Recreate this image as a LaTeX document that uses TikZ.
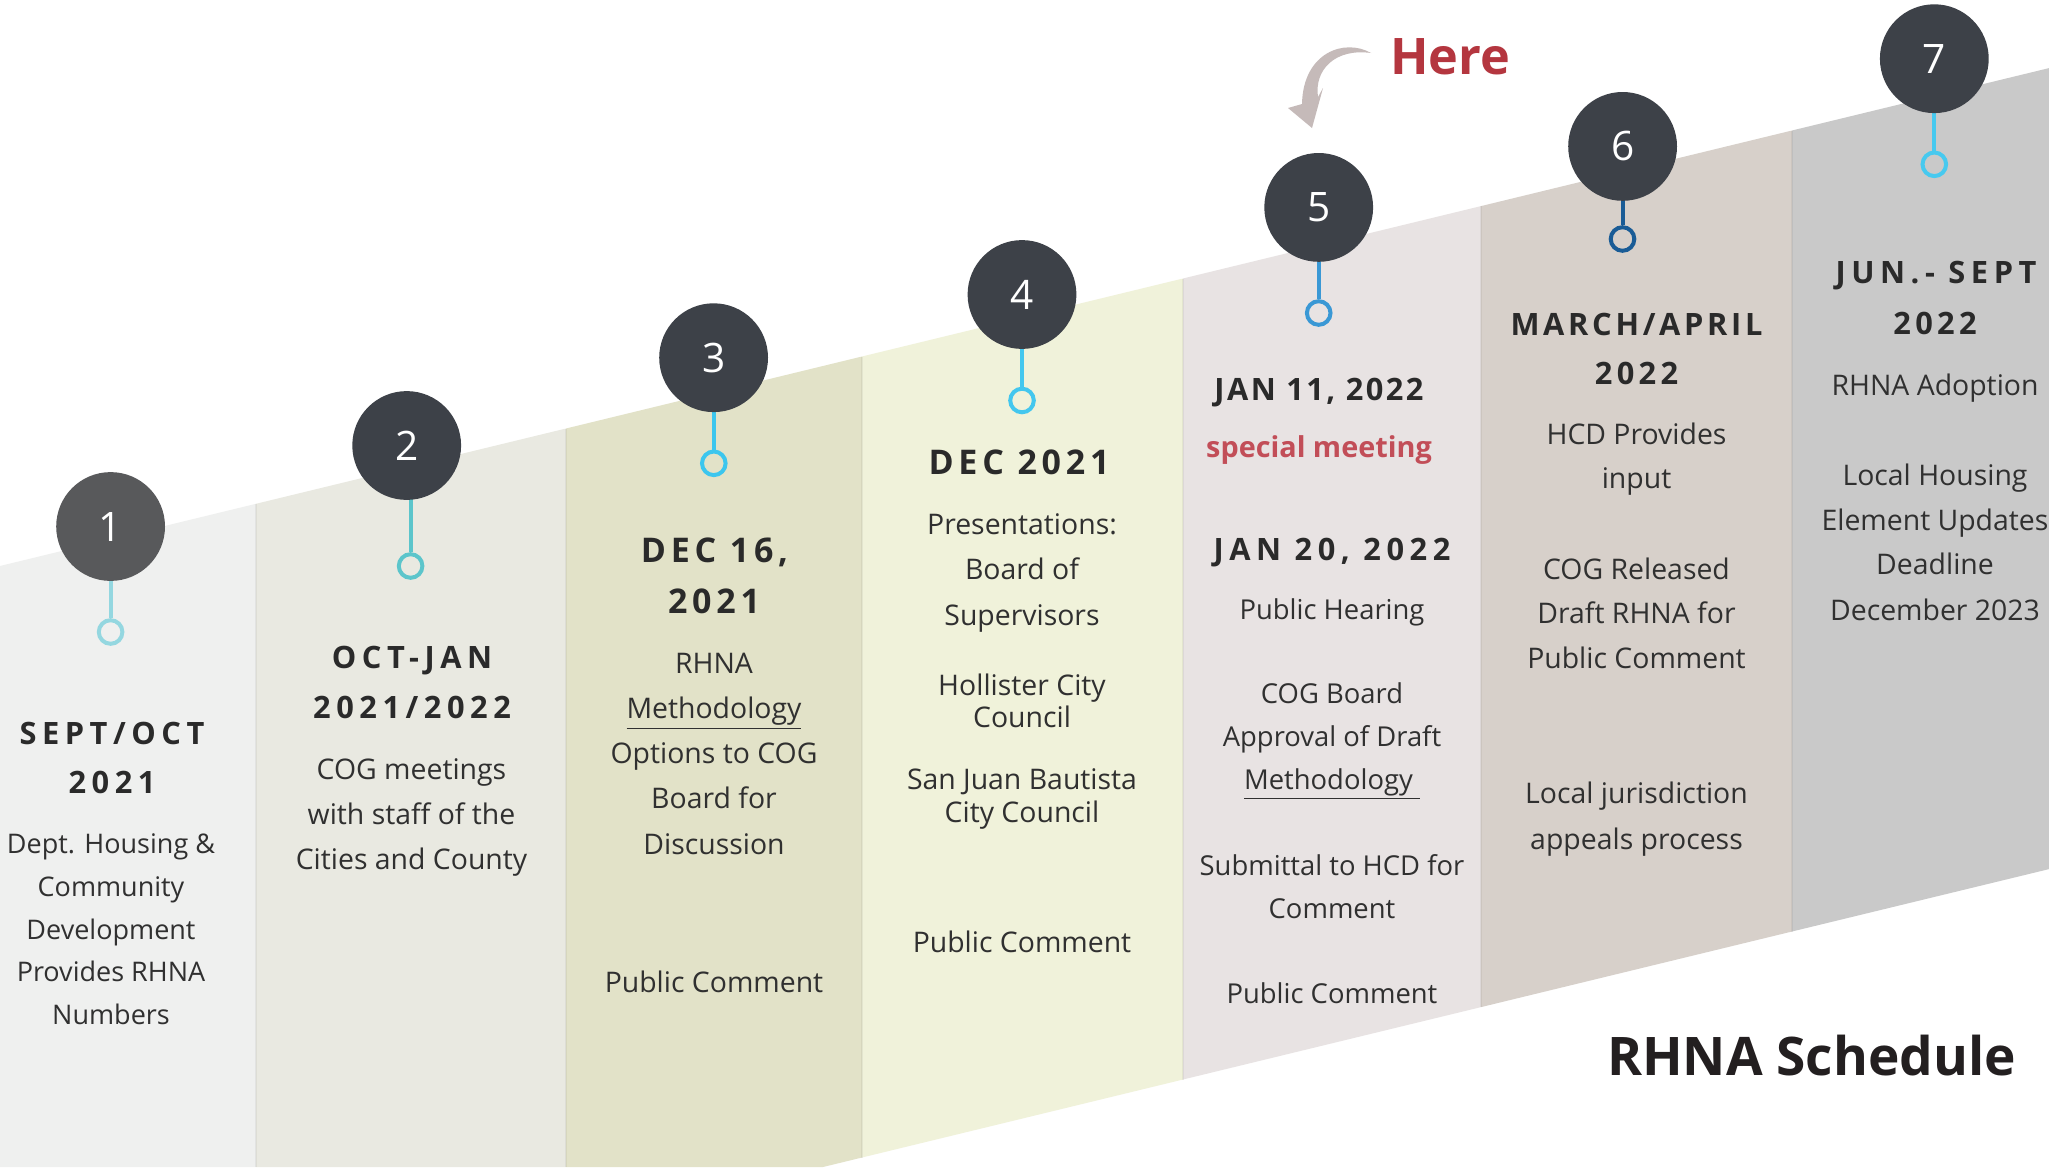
\documentclass[tikz,border=0pt]{standalone}
\usepackage{fontspec}
\setmainfont{Open Sans}
\definecolor{colA}{HTML}{EFF0EF}
\definecolor{colB}{HTML}{E9E9E1}
\definecolor{colC}{HTML}{E2E2C8}
\definecolor{colD}{HTML}{F0F2DA}
\definecolor{colE}{HTML}{E8E3E3}
\definecolor{colF}{HTML}{D7D0CA}
\definecolor{colG}{HTML}{C9C9C9}
\definecolor{pindark}{HTML}{3D4148}
\definecolor{pingray}{HTML}{58595B}
\definecolor{ringA}{HTML}{94D7E0}
\definecolor{ringB}{HTML}{5CC5CB}
\definecolor{ringC}{HTML}{3CC6EE}
\definecolor{ringD}{HTML}{44C7EE}
\definecolor{ringE}{HTML}{3A98D5}
\definecolor{ringF}{HTML}{1A5C96}
\definecolor{ringG}{HTML}{47C9EF}
\definecolor{headc}{HTML}{2A2A2A}
\definecolor{bodyc}{HTML}{303030}
\definecolor{herec}{HTML}{B4363F}
\definecolor{specc}{HTML}{C24E58}
\definecolor{arrowc}{HTML}{C5BAB9}
\definecolor{titlec}{HTML}{231F20}
\pgfdeclarelayer{colbg}
\pgfdeclarelayer{stemlayer}
\pgfsetlayers{colbg,stemlayer,main}
\begin{document}
\begin{tikzpicture}[x=0.5pt,y=-0.5pt,
  body/.style={font=\fontsize{14.2}{17}\selectfont, text=bodyc, inner sep=0pt, anchor=base},
  bodysm/.style={font=\fontsize{13.5}{16}\selectfont, text=bodyc, inner sep=0pt, anchor=base},
  bodymd/.style={font=\fontsize{13.7}{16}\selectfont, text=bodyc, inner sep=0pt, anchor=base},
  head/.style={font=\bfseries\fontsize{15.4}{18}\selectfont\addfontfeatures{LetterSpace=14}, text=headc, inner sep=0pt, anchor=base},
  headw/.style={font=\bfseries\fontsize{15.4}{18}\selectfont\addfontfeatures{LetterSpace=18}, text=headc, inner sep=0pt, anchor=base},
  bighead/.style={font=\bfseries\fontsize{17}{20}\selectfont\addfontfeatures{LetterSpace=14}, text=headc, inner sep=0pt, anchor=base},
  pinbox/.style={circle, fill=pindark, minimum size=54.4pt, inner sep=0pt, text=white, font=\fontsize{20.3}{24}\selectfont},
  ringbox/.style={circle, draw, line width=2pt, minimum size=11.8pt, inner sep=0pt},
  stemline/.style={line width=2pt},
  sepline/.style={black, opacity=0.05, line width=0.6pt}
]
\useasboundingbox (0,0) rectangle (2049,1167);
\begin{pgfonlayer}{colbg}
\fill[white] (0,0) rectangle (2049,1167);
\fill[colA] (0,566) -- (256,503.8) -- (256,1167) -- (0,1167) -- cycle;
\fill[colB] (256,503.8) -- (566,428.5) -- (566,1167) -- (256,1167) -- cycle;
\fill[colC] (566,428.5) -- (862,356.5) -- (862,1157.5) -- (823,1167) -- (566,1167) -- cycle;
\fill[colD] (862,356.5) -- (1183,278.5) -- (1183,1079.5) -- (862,1157.5) -- cycle;
\fill[colE] (1183,278.5) -- (1481,206.1) -- (1481,1007.1) -- (1183,1079.5) -- cycle;
\fill[colF] (1481,206.1) -- (1792,130.5) -- (1792,931.5) -- (1481,1007.1) -- cycle;
\fill[colG] (1792,130.5) -- (2049,68.1) -- (2049,869.1) -- (1792,931.5) -- cycle;
\draw[sepline] (256,503.8) -- (256,1167);
\draw[sepline] (566,428.5) -- (566,1167);
\draw[sepline] (862,356.5) -- (862,1157.5);
\draw[sepline] (1183,278.5) -- (1183,1079.5);
\draw[sepline] (1481,206.1) -- (1481,1007.1);
\draw[sepline] (1792,130.5) -- (1792,931.5);
\end{pgfonlayer}

% pins
\node[pinbox, fill=pingray] (p1) at (110.6,526.5) {1};
\node[pinbox] (p2) at (406.7,445.5) {2};
\node[pinbox] (p3) at (713.6,357.7) {3};
\node[pinbox] (p4) at (1022,294.5) {4};
\node[pinbox] (p5) at (1318.7,207.4) {5};
\node[pinbox] (p6) at (1622.6,146.4) {6};
\node[pinbox] (p7) at (1934.3,58.7) {7};

\node[ringbox, draw=ringA] (r1) at (110.6,632) {};
\node[ringbox, draw=ringB] (r2) at (410.6,566) {};
\node[ringbox, draw=ringC] (r3) at (713.8,463.3) {};
\node[ringbox, draw=ringD] (r4) at (1022,400.5) {};
\node[ringbox, draw=ringE] (r5) at (1318.7,313) {};
\node[ringbox, draw=ringF] (r6) at (1622.5,239) {};
\node[ringbox, draw=ringG] (r7) at (1934.3,164.3) {};

\begin{pgfonlayer}{stemlayer}
\draw[stemline, ringA] (r1 |- p1.center) -- (r1.north);
\draw[stemline, ringB] (r2 |- p2.center) -- (r2.north);
\draw[stemline, ringC] (r3 |- p3.center) -- (r3.north);
\draw[stemline, ringD] (r4 |- p4.center) -- (r4.north);
\draw[stemline, ringE] (r5 |- p5.center) -- (r5.north);
\draw[stemline, ringF] (r6 |- p6.center) -- (r6.north);
\draw[stemline, ringG] (r7 |- p7.center) -- (r7.north);
\end{pgfonlayer}

% "Here" and curved arrow
\node[font=\bfseries\fontsize{25.2}{30}\selectfont, text=herec, inner sep=0pt, anchor=base] (here) at (1450,74.6) {Here};
\fill[arrowc] (1371,53) .. controls (1345,38) and (1303,52) .. (1302,104)
  -- (1288,108) -- (1312,128) -- (1323,88) -- (1318,97)
  .. controls (1314,70) and (1335,48) .. (1371,53) -- cycle;

% column 1
\node[headw] (h1a) at (112,744) {SEPT/OCT};
\node[headw] (h1b) at (112,793.5) {2021};
\node[bodysm] (b1a) at (111,853) {Dept. Housing \&};
\node[bodysm] (b1b) at (111,896) {Community};
\node[bodysm] (b1c) at (111,939) {Development};
\node[bodysm] (b1d) at (111,981.5) {Provides RHNA};
\node[bodysm] (b1e) at (111,1024) {Numbers};

% column 2
\node[headw] (h2a) at (412,668.7) {OCT-JAN};
\node[headw] (h2b) at (412,718.6) {2021/2022};
\node[body] (b2a) at (411.5,779.7) {COG meetings};
\node[body] (b2b) at (411.5,824) {with staff of the};
\node[body] (b2c) at (411.5,869.4) {Cities and County};

% column 3
\node[bighead] (h3a) at (714.5,562) {DEC 16,};
\node[bighead] (h3b) at (714,613) {2021};
\node[body] (b3a) at (714,673.5) {RHNA};
\node[body] (b3b) at (714,718.4) {\underline{Methodology}};
\node[body] (b3c) at (714,763.8) {Options to COG};
\node[body] (b3d) at (714,808.7) {Board for};
\node[body] (b3e) at (714,854.6) {Discussion};
\node[body] (b3f) at (714,992.3) {Public Comment};

% column 4
\node[bighead] (h4a) at (1019,474.5) {DEC 2021};
\node[body] (b4a) at (1022,534) {Presentations:};
\node[body] (b4b) at (1022,579) {Board of};
\node[body] (b4c) at (1022,625) {Supervisors};
\node[body] (b4d) at (1022,695.4) {Hollister City};
\node[body] (b4e) at (1022,727) {Council};
\node[body] (b4f) at (1022,789.8) {San Juan Bautista};
\node[body] (b4g) at (1022,822.4) {City Council};
\node[body] (b4h) at (1022,952.6) {Public Comment};

% column 5
\node[head, font=\bfseries\fontsize{15.4}{18}\selectfont\addfontfeatures{LetterSpace=8}] (h5a) at (1319,400) {JAN 11, 2022};
\node[body, font=\bfseries\fontsize{14.4}{17}\selectfont, text=specc] (s5) at (1319,457.3) {special meeting};
\node[headw] (h5b) at (1332,560.7) {JAN 20, 2022};
\node[bodymd] (b5a) at (1332,619) {Public Hearing};
\node[bodymd] (b5b) at (1332,703.5) {COG Board};
\node[bodymd] (b5c) at (1332,746) {Approval of Draft};
\node[bodymd] (b5d) at (1332,789.3) {\underline{Methodology\ }};
\node[bodymd] (b5e) at (1332,875.8) {Submittal to HCD for};
\node[bodymd] (b5f) at (1332,918) {Comment};
\node[bodymd] (b5g) at (1332,1003.4) {Public Comment};

% column 6
\node[head, font=\bfseries\fontsize{15.4}{18}\selectfont\addfontfeatures{LetterSpace=12}] (h6a) at (1636.5,335.7) {MARCH/APRIL};
\node[head] (h6b) at (1636.5,384) {2022};
\node[body] (b6a) at (1636.5,444) {HCD Provides};
\node[body] (b6b) at (1636.5,488) {input};
\node[body] (b6c) at (1636.5,579) {COG Released};
\node[body] (b6d) at (1636.5,623.7) {Draft RHNA for};
\node[body] (b6e) at (1636.5,668.3) {Public Comment};
\node[body] (b6f) at (1636.5,803.8) {Local jurisdiction};
\node[body] (b6g) at (1636.5,849) {appeals process};

% column 7
\node[headw] (h7a) at (1936,283.5) {JUN.- SEPT};
\node[head] (h7b) at (1935,334.8) {2022};
\node[body] (b7a) at (1935,395) {RHNA Adoption};
\node[body] (b7b) at (1935,485) {Local Housing};
\node[body] (b7c) at (1935,530) {Element Updates};
\node[body] (b7d) at (1935,574.5) {Deadline};
\node[body] (b7e) at (1935,620.5) {December 2023};

% title
\node[font=\bfseries\fontsize{26.6}{32}\selectfont, text=titlec, inner sep=0pt, anchor=base] (title) at (1811.5,1075) {RHNA Schedule};
\end{tikzpicture}
\end{document}
